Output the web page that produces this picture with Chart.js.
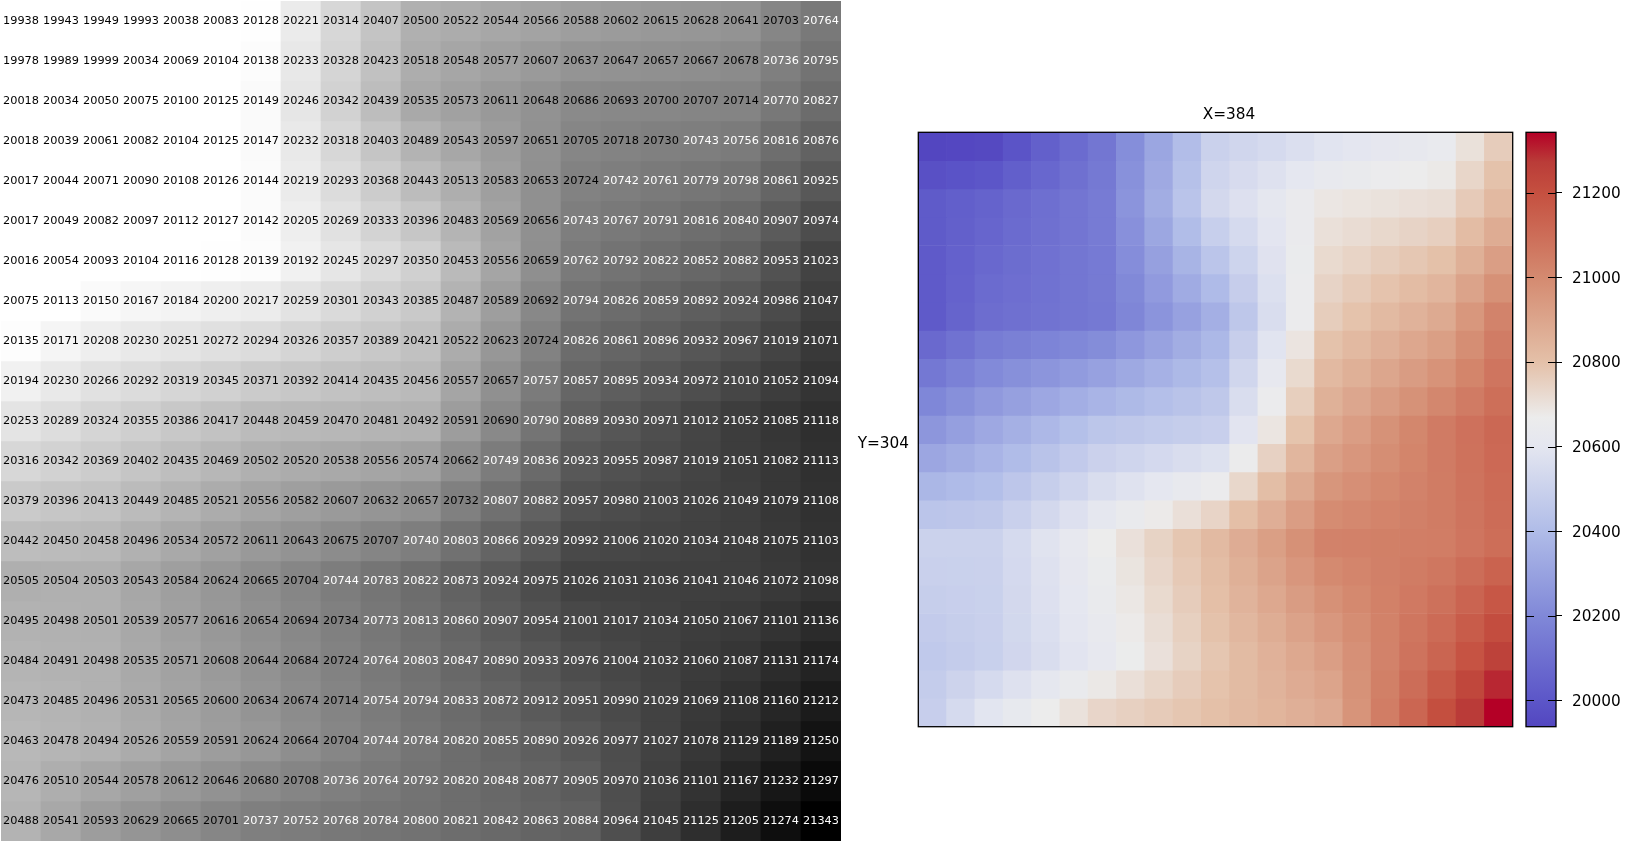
<!DOCTYPE html>
<html>
<head>
<meta charset="utf-8">
<script src="https://cdn.jsdelivr.net/npm/chart.js@4.4.1/dist/chart.umd.min.js"></script>
<style>
html, body { margin: 0; padding: 0; background: #fff; }
body { width: 1644px; height: 842px; position: relative; overflow: hidden; }
.box { position: absolute; }
</style>
</head>
<body>
<div class="box" style="left:0;top:0;width:842px;height:842px"><canvas id="grid"></canvas></div>
<div class="box" style="left:845px;top:90px;width:700px;height:660px"><canvas id="heat"></canvas></div>
<div class="box" style="left:1520px;top:120px;width:124px;height:620px"><canvas id="cbar"></canvas></div>
<script>
// pixel values, one array per image row (top to bottom)
const r01 = [19938, 19943, 19949, 19993, 20038, 20083, 20128, 20221, 20314, 20407, 20500, 20522, 20544, 20566, 20588, 20602, 20615, 20628, 20641, 20703, 20764];
const r02 = [19978, 19989, 19999, 20034, 20069, 20104, 20138, 20233, 20328, 20423, 20518, 20548, 20577, 20607, 20637, 20647, 20657, 20667, 20678, 20736, 20795];
const r03 = [20018, 20034, 20050, 20075, 20100, 20125, 20149, 20246, 20342, 20439, 20535, 20573, 20611, 20648, 20686, 20693, 20700, 20707, 20714, 20770, 20827];
const r04 = [20018, 20039, 20061, 20082, 20104, 20125, 20147, 20232, 20318, 20403, 20489, 20543, 20597, 20651, 20705, 20718, 20730, 20743, 20756, 20816, 20876];
const r05 = [20017, 20044, 20071, 20090, 20108, 20126, 20144, 20219, 20293, 20368, 20443, 20513, 20583, 20653, 20724, 20742, 20761, 20779, 20798, 20861, 20925];
const r06 = [20017, 20049, 20082, 20097, 20112, 20127, 20142, 20205, 20269, 20333, 20396, 20483, 20569, 20656, 20743, 20767, 20791, 20816, 20840, 20907, 20974];
const r07 = [20016, 20054, 20093, 20104, 20116, 20128, 20139, 20192, 20245, 20297, 20350, 20453, 20556, 20659, 20762, 20792, 20822, 20852, 20882, 20953, 21023];
const r08 = [20075, 20113, 20150, 20167, 20184, 20200, 20217, 20259, 20301, 20343, 20385, 20487, 20589, 20692, 20794, 20826, 20859, 20892, 20924, 20986, 21047];
const r09 = [20135, 20171, 20208, 20230, 20251, 20272, 20294, 20326, 20357, 20389, 20421, 20522, 20623, 20724, 20826, 20861, 20896, 20932, 20967, 21019, 21071];
const r10 = [20194, 20230, 20266, 20292, 20319, 20345, 20371, 20392, 20414, 20435, 20456, 20557, 20657, 20757, 20857, 20895, 20934, 20972, 21010, 21052, 21094];
const r11 = [20253, 20289, 20324, 20355, 20386, 20417, 20448, 20459, 20470, 20481, 20492, 20591, 20690, 20790, 20889, 20930, 20971, 21012, 21052, 21085, 21118];
const r12 = [20316, 20342, 20369, 20402, 20435, 20469, 20502, 20520, 20538, 20556, 20574, 20662, 20749, 20836, 20923, 20955, 20987, 21019, 21051, 21082, 21113];
const r13 = [20379, 20396, 20413, 20449, 20485, 20521, 20556, 20582, 20607, 20632, 20657, 20732, 20807, 20882, 20957, 20980, 21003, 21026, 21049, 21079, 21108];
const r14 = [20442, 20450, 20458, 20496, 20534, 20572, 20611, 20643, 20675, 20707, 20740, 20803, 20866, 20929, 20992, 21006, 21020, 21034, 21048, 21075, 21103];
const r15 = [20505, 20504, 20503, 20543, 20584, 20624, 20665, 20704, 20744, 20783, 20822, 20873, 20924, 20975, 21026, 21031, 21036, 21041, 21046, 21072, 21098];
const r16 = [20495, 20498, 20501, 20539, 20577, 20616, 20654, 20694, 20734, 20773, 20813, 20860, 20907, 20954, 21001, 21017, 21034, 21050, 21067, 21101, 21136];
const r17 = [20484, 20491, 20498, 20535, 20571, 20608, 20644, 20684, 20724, 20764, 20803, 20847, 20890, 20933, 20976, 21004, 21032, 21060, 21087, 21131, 21174];
const r18 = [20473, 20485, 20496, 20531, 20565, 20600, 20634, 20674, 20714, 20754, 20794, 20833, 20872, 20912, 20951, 20990, 21029, 21069, 21108, 21160, 21212];
const r19 = [20463, 20478, 20494, 20526, 20559, 20591, 20624, 20664, 20704, 20744, 20784, 20820, 20855, 20890, 20926, 20977, 21027, 21078, 21129, 21189, 21250];
const r20 = [20476, 20510, 20544, 20578, 20612, 20646, 20680, 20708, 20736, 20764, 20792, 20820, 20848, 20877, 20905, 20970, 21036, 21101, 21167, 21232, 21297];
const r21 = [20488, 20541, 20593, 20629, 20665, 20701, 20737, 20752, 20768, 20784, 20800, 20821, 20842, 20863, 20884, 20964, 21045, 21125, 21205, 21274, 21343];
const rows = [r01, r02, r03, r04, r05, r06, r07, r08, r09, r10, r11, r12, r13, r14, r15, r16, r17, r18, r19, r20, r21];

const colLabels = r01.map((_, i) => String(i));
const cbTicks = [20000, 20200, 20400, 20600, 20800, 21000, 21200];
const titleX = 'X=384';
const labelY = 'Y=304';

const allVals = rows.flat();
const vmin = Math.min(...allVals);
const vmax = Math.max(...allVals);

// grey window of the left table (white below, black at the max)
const grayLo = 20125;
const grayHi = vmax;
const grayMid = (grayLo + grayHi) / 2;

// diverging map
const cmapStops = [
    [0.000, [83, 70, 192]],
    [0.044, [92, 86, 200]],
    [0.186, [128, 136, 216]],
    [0.329, [176, 188, 232]],
    [0.471, [228, 230, 240]],
    [0.520, [236, 236, 236]],
    [0.614, [228, 192, 168]],
    [0.756, [212, 138, 112]],
    [0.898, [197, 80, 64]],
    [0.950, [186, 60, 56]],
    [1.000, [180, 0, 38]]
];

function cmap(t) {
    t = Math.max(0, Math.min(1, t));
    for (let k = 1; k < cmapStops.length; k++) {
        const [t1, c1] = cmapStops[k];
        const [t0, c0] = cmapStops[k - 1];
        if (t <= t1) {
            const f = (t - t0) / (t1 - t0);
            const c = c0.map((a, i) => Math.round(a + (c1[i] - a) * f));
            return `rgb(${c[0]},${c[1]},${c[2]})`;
        }
    }
    return 'rgb(180,0,38)';
}

function grayOf(v) {
    let t = (v - grayLo) / (grayHi - grayLo);
    t = Math.max(0, Math.min(1, t));
    const g = Math.round(255 * (1 - t));
    return `rgb(${g},${g},${g})`;
}

function sizeCanvas(id, w, h) {
    const c = document.getElementById(id);
    c.width = w; c.height = h;
    c.style.width = w + 'px'; c.style.height = h + 'px';
    return c;
}

const FONT = '"DejaVu Sans", sans-serif';

const cellScales = {
    x: { stacked: true, display: false },
    y: { stacked: true, display: false, min: 0, max: rows.length, reverse: true }
};

const baseOpts = {
    responsive: false,
    devicePixelRatio: 1,
    animation: false,
    events: [],
    plugins: { legend: { display: false }, tooltip: { enabled: false }, title: { display: false } }
};

function cellDatasets(colorFn) {
    return rows.map((row, i) => ({
        label: 'row ' + i,
        data: row.map(() => 1),
        backgroundColor: row.map(colorFn),
        borderWidth: 0,
        barPercentage: 1,
        categoryPercentage: 1
    }));
}

// numbers printed in each cell of the grey table
const cellText = {
    id: 'cellText',
    afterDatasetsDraw(chart) {
        const ctx = chart.ctx;
        ctx.save();
        ctx.font = '11.3px ' + FONT;
        ctx.textAlign = 'center';
        ctx.textBaseline = 'middle';
        chart.data.datasets.forEach((ds, i) => {
            chart.getDatasetMeta(i).data.forEach((bar, j) => {
                const v = rows[i][j];
                const p = bar.getCenterPoint();
                ctx.fillStyle = v > grayMid ? '#fff' : '#000';
                ctx.fillText(String(v), p.x, p.y + 0.5);
            });
        });
        ctx.restore();
    }
};

new Chart(sizeCanvas('grid', 842, 842), {
    type: 'bar',
    data: { labels: colLabels, datasets: cellDatasets(grayOf) },
    options: {
        ...baseOpts,
        layout: { padding: { left: 1, top: 1, right: 1, bottom: 1 } },
        scales: cellScales
    },
    plugins: [cellText]
});

// frame + labels round the colour map
const heatDeco = {
    id: 'heatDeco',
    afterDraw(chart) {
        const { ctx, chartArea: a } = chart;
        ctx.save();
        ctx.strokeStyle = '#000';
        ctx.lineWidth = 1.3;
        ctx.strokeRect(a.left, a.top, a.right - a.left, a.bottom - a.top);
        ctx.fillStyle = '#000';
        ctx.font = '15.3px ' + FONT;
        ctx.textBaseline = 'alphabetic';
        ctx.textAlign = 'center';
        ctx.fillText(titleX, (a.left + a.right) / 2 + 13.5, a.top - 13);
        ctx.textAlign = 'right';
        ctx.fillText(labelY, a.left - 9.3, a.top + 316);
        ctx.restore();
    }
};

new Chart(sizeCanvas('heat', 700, 660), {
    type: 'bar',
    data: { labels: colLabels, datasets: cellDatasets(v => cmap((v - vmin) / (vmax - vmin))) },
    options: {
        ...baseOpts,
        layout: { padding: { left: 73.3, top: 42.3, right: 32.3, bottom: 23.3 } },
        scales: cellScales
    },
    plugins: [heatDeco]
});

// colour bar
const cbarDeco = {
    id: 'cbarDeco',
    afterDraw(chart) {
        const { ctx, chartArea: a } = chart;
        const y = chart.scales.y;
        ctx.save();
        ctx.strokeStyle = '#000';
        ctx.lineWidth = 1;
        ctx.beginPath();
        cbTicks.forEach(v => {
            const py = Math.round(y.getPixelForValue(v)) + 0.5;
            ctx.moveTo(a.left, py); ctx.lineTo(a.left + 8, py);
            ctx.moveTo(a.right, py); ctx.lineTo(a.right - 8, py);
        });
        ctx.stroke();
        ctx.lineWidth = 1.3;
        ctx.strokeRect(a.left, a.top, a.right - a.left, a.bottom - a.top);
        ctx.restore();
    }
};

new Chart(sizeCanvas('cbar', 124, 620), {
    type: 'bar',
    data: {
        labels: [''],
        datasets: [{
            data: [[vmin, vmax]],
            borderWidth: 0,
            barPercentage: 1,
            categoryPercentage: 1,
            backgroundColor(c) {
                const chart = c.chart;
                if (!chart.chartArea) return '#ccc';
                const y = chart.scales.y;
                const g = chart.ctx.createLinearGradient(0, y.getPixelForValue(vmin), 0, y.getPixelForValue(vmax));
                cmapStops.forEach(([t, col]) => g.addColorStop(t, `rgb(${col[0]},${col[1]},${col[2]})`));
                return g;
            }
        }]
    },
    options: {
        ...baseOpts,
        layout: { padding: { left: 6, top: 12.3, right: 0, bottom: 13.3 } },
        scales: {
            x: { display: false },
            y: {
                position: 'right',
                min: vmin,
                max: vmax,
                afterFit(s) { s.width = 88; s.paddingTop = 0; s.paddingBottom = 0; },
                afterBuildTicks(s) { s.ticks = cbTicks.map(v => ({ value: v })); },
                ticks: { color: '#000', font: { family: FONT, size: 15.3 }, padding: 10, labelOffset: 1.5, callback: v => String(v) },
                grid: { drawOnChartArea: false, drawTicks: true, tickLength: 6, color: '#000', lineWidth: 1 },
                border: { display: false }
            }
        }
    },
    plugins: [cbarDeco]
});
</script>
</body>
</html>
